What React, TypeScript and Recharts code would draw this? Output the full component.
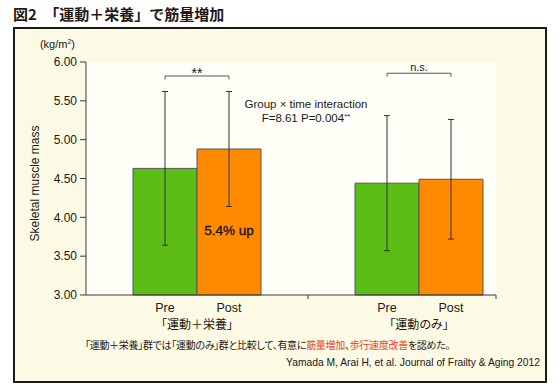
import React from 'react';
import { BarChart, Bar, XAxis, YAxis, ErrorBar, LabelList, CartesianGrid } from 'recharts';

// groups and time points
const GROUPS = ['「運動＋栄養」', '「運動のみ」'];
const TIME_POINTS = ['Pre', 'Post'];

// skeletal muscle mass (kg/m2), mean and SD
const PRE_MEAN = [4.63, 4.44];
const POST_MEAN = [4.88, 4.49];
const PRE_SD = [0.99, 0.87];
const POST_SD = [0.74, 0.77];

// significance brackets (label + level in kg/m2)
const SIG_LABELS = ['**', 'n.s.'];
const SIG_LEVEL = [5.82, 5.855];

// text inside the post bar
const UP_LABELS = ['5.4% up', ''];
const UP_LEVEL = 3.84;

const Y_TICKS = [3.0, 3.5, 4.0, 4.5, 5.0, 5.5, 6.0];
const Y_MIN = 3;
const Y_MAX = 6;

const data = GROUPS.map((group, i) => ({
    group,
    pre: PRE_MEAN[i],
    post: POST_MEAN[i],
    preSd: PRE_SD[i],
    postSd: POST_SD[i],
}));

const GREEN = '#5cbd16';
const ORANGE = '#ff8a00';
const INK = '#231815';
const AXIS = '#3a3a3a';
const LATIN = '"Liberation Sans", Arial, Helvetica, sans-serif';
const CJK = '"Noto Sans CJK JP", "Noto Sans", sans-serif';

const W = 560;
const H = 387;
const PLOT_RIGHT = 496;
const BAR_SIZE = 64;

const GroupTick = (props: any) => {
    const { x, y, payload, index } = props;
    const half = BAR_SIZE / 2;
    const bandHalf = payload?.offset ?? 111;
    const divX = index === GROUPS.length - 1 ? PLOT_RIGHT : x + bandHalf;
    return (
        <g>
            <line x1={divX} y1={y} x2={divX} y2={y + 4} stroke={AXIS} strokeWidth={1} />
            <text x={x - half} y={y + 17} textAnchor="middle" fontSize={12.5} fill={INK} fontFamily={LATIN}>
                {TIME_POINTS[0]}
            </text>
            <text x={x + half} y={y + 17} textAnchor="middle" fontSize={12.5} fill={INK} fontFamily={LATIN}>
                {TIME_POINTS[1]}
            </text>
            <text
                x={x}
                y={y + 33.5}
                textAnchor="middle"
                fontSize={12}
                fill={INK}
                fontFamily={CJK}
                style={{ fontFeatureSettings: '"palt"' }}
            >
                {payload.value}
            </text>
        </g>
    );
};

const SigBracket = (props: any) => {
    const { index, value } = props;
    const vb = props.viewBox ?? props;
    const { x, y, width, height } = vb;
    if (x == null || !SIG_LABELS[index]) return null;
    const bottom = y + height;
    const pxPerUnit = height / (value - Y_MIN);
    const by = bottom - (SIG_LEVEL[index] - Y_MIN) * pxPerUnit;
    const x1 = x + width / 2;
    const x2 = x + width * 1.5;
    const isStar = SIG_LABELS[index].startsWith('*');
    return (
        <g>
            <path d={`M${x1},${by + 3.5}V${by}H${x2}V${by + 3.5}`} fill="none" stroke="#555" strokeWidth={1} />
            <text
                x={(x1 + x2) / 2}
                y={isStar ? by + 2 : by - 2.5}
                textAnchor="middle"
                fontSize={isStar ? 14 : 11}
                fill={INK}
                fontFamily={LATIN}
            >
                {SIG_LABELS[index]}
            </text>
        </g>
    );
};

const UpLabel = (props: any) => {
    const { index, value } = props;
    const vb = props.viewBox ?? props;
    const { x, y, width, height } = vb;
    if (x == null || !UP_LABELS[index]) return null;
    const bottom = y + height;
    const pxPerUnit = height / (value - Y_MIN);
    const ty = bottom - (UP_LEVEL - Y_MIN) * pxPerUnit;
    return (
        <text
            x={x + width / 2}
            y={ty + 5}
            textAnchor="middle"
            fontSize={13.5}
            fill="#111"
            stroke="#111"
            strokeWidth={0.3}
            fontFamily={LATIN}
        >
            {UP_LABELS[index]}
        </text>
    );
};

const AxisTitle = (props: any) => {
    const vb = props.viewBox;
    if (!vb) return null;
    const cx = vb.x - 5;
    const cy = vb.y + vb.height / 2 + 5;
    return (
        <g>
            <text
                x={cx}
                y={cy}
                transform={`rotate(-90 ${cx} ${cy})`}
                textAnchor="middle"
                dominantBaseline="central"
                fontSize={12}
                fill={INK}
                fontFamily={LATIN}
            >
                Skeletal muscle mass
            </text>
            <text x={vb.x + vb.width - 11} y={vb.y - 14} textAnchor="end" fontSize={11} fill={INK} fontFamily={LATIN}>
                (kg/m<tspan fontSize={7} dy={-4}>2</tspan>
                <tspan dy={4}>)</tspan>
            </text>
        </g>
    );
};

export default function App() {
    return (
        <div style={{ position: 'absolute', left: 0, top: 0, width: W, height: H, background: '#fff', overflow: 'hidden' }}>
            <div
                style={{
                    position: 'absolute',
                    left: 4,
                    top: 5,
                    fontFamily: CJK,
                    fontWeight: 700,
                    fontSize: 15,
                    color: INK,
                    whiteSpace: 'nowrap',
                    lineHeight: '18px',
                    paddingLeft: 9,
                }}
            >
                図2　「運動＋栄養」で筋量増加
            </div>
            <div
                style={{
                    position: 'absolute',
                    left: 13,
                    top: 27,
                    width: 534,
                    height: 356,
                    boxSizing: 'border-box',
                    border: '2px solid #1a1a1a',
                    background: '#fcf9e4',
                }}
            />
            <div style={{ position: 'absolute', left: 0, top: 0 }}>
                <BarChart
                    width={W}
                    height={H}
                    data={data}
                    margin={{ top: 62, right: W - PLOT_RIGHT, left: 40, bottom: 52 }}
                    barGap={0}
                >
                    <CartesianGrid horizontal={false} vertical={false} fill="#fffff8" />
                    <XAxis
                        dataKey="group"
                        height={40}
                        padding={{ left: 0, right: -34 }}
                        interval={0}
                        tickLine={false}
                        tickSize={0}
                        tickMargin={0}
                        axisLine={{ stroke: AXIS, strokeWidth: 1 }}
                        tick={<GroupTick />}
                    />
                    <YAxis
                        type="number"
                        domain={[Y_MIN, Y_MAX]}
                        ticks={Y_TICKS}
                        width={46}
                        interval={0}
                        tickSize={6}
                        tickMargin={3}
                        tickFormatter={(v: number) => v.toFixed(2)}
                        axisLine={{ stroke: AXIS, strokeWidth: 1 }}
                        tickLine={{ stroke: AXIS, strokeWidth: 1 }}
                        tick={{ fontSize: 12, fill: INK, fontFamily: LATIN }}
                        label={AxisTitle}
                    />
                    <Bar dataKey="pre" fill={GREEN} stroke="#555" strokeWidth={1} barSize={BAR_SIZE} isAnimationActive={false}>
                        <ErrorBar dataKey="preSd" direction="y" width={3} stroke="#333" strokeWidth={1} isAnimationActive={false} />
                        <LabelList dataKey="pre" content={<SigBracket />} />
                    </Bar>
                    <Bar dataKey="post" fill={ORANGE} stroke="#555" strokeWidth={1} barSize={BAR_SIZE} isAnimationActive={false}>
                        <ErrorBar dataKey="postSd" direction="y" width={3} stroke="#333" strokeWidth={1} isAnimationActive={false} />
                        <LabelList dataKey="post" content={<UpLabel />} />
                    </Bar>
                </BarChart>
            </div>
            <div
                style={{
                    position: 'absolute',
                    left: 306 - 100,
                    top: 99,
                    width: 200,
                    textAlign: 'center',
                    fontFamily: LATIN,
                    fontSize: 11.5,
                    lineHeight: '11.5px',
                    color: INK,
                }}
            >
                <div>Group × time interaction</div>
                <div>
                    F=8.61 P=0.004<span style={{ fontSize: 8, verticalAlign: 3 }}>**</span>
                </div>
            </div>
            <div
                style={{
                    position: 'absolute',
                    left: 85,
                    top: 339,
                    fontFamily: CJK,
                    fontSize: 10,
                    lineHeight: '12px',
                    color: INK,
                    whiteSpace: 'nowrap',
                    letterSpacing: -0.3,
                    fontFeatureSettings: '"palt"',
                }}
            >
                「運動＋栄養」群では「運動のみ」群と比較して、有意に<span style={{ color: '#f0401e' }}>筋量増加</span>、
                <span style={{ color: '#f0401e' }}>歩行速度改善</span>を認めた。
            </div>
            <div
                style={{
                    position: 'absolute',
                    right: W - 540,
                    top: 357,
                    fontFamily: LATIN,
                    fontSize: 10.3,
                    lineHeight: '12px',
                    color: INK,
                    whiteSpace: 'nowrap',
                }}
            >
                Yamada M, Arai H, et al. Journal of Frailty &amp; Aging 2012
            </div>
        </div>
    );
}
